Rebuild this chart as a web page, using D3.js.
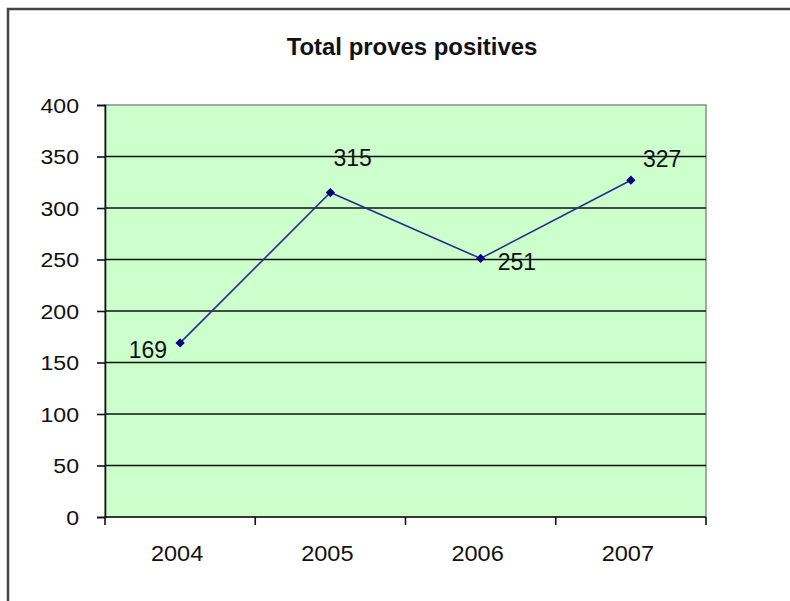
<!DOCTYPE html>
<html>
<head>
<meta charset="utf-8">
<script src="https://cdn.jsdelivr.net/npm/d3@7"></script>
<style>
  html, body { margin: 0; padding: 0; background: #ffffff; }
  svg { display: block; }
  text { font-family: Arial, "Liberation Sans", sans-serif; fill: #111111; }
</style>
</head>
<body>
<svg id="chart" width="790" height="601"></svg>
<script>
// Data
const years = ["2004", "2005", "2006", "2007"];
const values = [169, 315, 251, 327];
const yTicks = [0, 50, 100, 150, 200, 250, 300, 350, 400];
const titleText = "Total proves positives";

const W = 790, H = 601;
const plot = { left: 105, top: 105, right: 706, bottom: 517 };

const svg = d3.select("#chart");

// chart frame
svg.append("rect")
  .attr("x", 8).attr("y", 9)
  .attr("width", W + 20).attr("height", H + 20)
  .attr("fill", "#ffffff")
  .attr("stroke", "#444444").attr("stroke-width", 2.5);

const x = d3.scaleBand().domain(years).range([plot.left, plot.right]).padding(0);
const y = d3.scaleLinear().domain([0, 400]).range([plot.bottom, plot.top]);

// plot area fill
svg.append("rect")
  .attr("x", plot.left).attr("y", plot.top)
  .attr("width", plot.right - plot.left).attr("height", plot.bottom - plot.top)
  .attr("fill", "#ccffcc")
  .attr("stroke", "#8c8c8c").attr("stroke-width", 1.5);

// horizontal gridlines
svg.append("g")
  .selectAll("line")
  .data(yTicks.filter(t => t > 0 && t < 400))
  .join("line")
  .attr("x1", plot.left).attr("x2", plot.right)
  .attr("y1", d => y(d)).attr("y2", d => y(d))
  .attr("stroke", "#111111").attr("stroke-width", 1.6);

// y axis
const yAxis = svg.append("g")
  .attr("transform", `translate(${plot.left},0)`)
  .call(d3.axisLeft(y).tickValues(yTicks).tickSize(8).tickPadding(0).tickFormat(""));
yAxis.select(".domain").attr("stroke", "#111111").attr("stroke-width", 1.6);
yAxis.selectAll(".tick line").attr("stroke", "#111111").attr("stroke-width", 1.6);

// stretched text helper
function label(g, tx, ty, str, opts) {
  const t = g.append("text")
    .attr("transform", `translate(${tx},${ty}) scale(${opts.sx || 1},1)`)
    .attr("text-anchor", opts.anchor || "start")
    .style("font-size", opts.size + "px")
    .text(str);
  if (opts.bold) t.style("font-weight", "bold");
  return t;
}

const yLab = svg.append("g");
yTicks.forEach(t => {
  label(yLab, 79, y(t) + 7.5, String(t), { anchor: "end", size: 21, sx: 1.1 });
});

// x axis
const xAxis = svg.append("g")
  .attr("transform", `translate(0,${plot.bottom})`);
xAxis.append("line")
  .attr("x1", plot.left).attr("x2", plot.right)
  .attr("y1", 0).attr("y2", 0)
  .attr("stroke", "#111111").attr("stroke-width", 1.6);
const edges = years.map(d => x(d)).concat([x(years[years.length - 1]) + x.bandwidth()]);
xAxis.selectAll("line.tick")
  .data(edges)
  .join("line")
  .attr("class", "tick")
  .attr("x1", d => d).attr("x2", d => d)
  .attr("y1", 0).attr("y2", 8)
  .attr("stroke", "#111111").attr("stroke-width", 1.6);

const xLab = svg.append("g");
years.forEach(yr => {
  label(xLab, x(yr) + x.bandwidth() / 2 - 3, 561, yr, { anchor: "middle", size: 22, sx: 1.07 });
});

// title
label(svg.append("g"), 412, 55, titleText, { anchor: "middle", size: 23, sx: 1.04, bold: true });

// series line
const cx = d => x(d) + x.bandwidth() / 2;
const pts = years.map((yr, i) => [cx(yr), y(values[i])]);
svg.append("path")
  .attr("d", d3.line()(pts))
  .attr("fill", "none")
  .attr("stroke", "#25308a").attr("stroke-width", 1.6);

// diamond markers
svg.append("g")
  .selectAll("path")
  .data(pts)
  .join("path")
  .attr("transform", d => `translate(${d[0]},${d[1]})`)
  .attr("d", d3.symbol(d3.symbolDiamond2, 55)())
  .attr("fill", "#000080");

// value labels
const offsets = [
  { dx: -13, dy: 15, anchor: "end" },
  { dx: 3, dy: -27, anchor: "start" },
  { dx: 17, dy: 12, anchor: "start" },
  { dx: 12, dy: -13, anchor: "start" }
];
const vLab = svg.append("g");
values.forEach((v, i) => {
  const o = offsets[i];
  label(vLab, pts[i][0] + o.dx, pts[i][1] + o.dy, String(v), { anchor: o.anchor, size: 23, sx: 1.0 });
});
</script>
</body>
</html>
